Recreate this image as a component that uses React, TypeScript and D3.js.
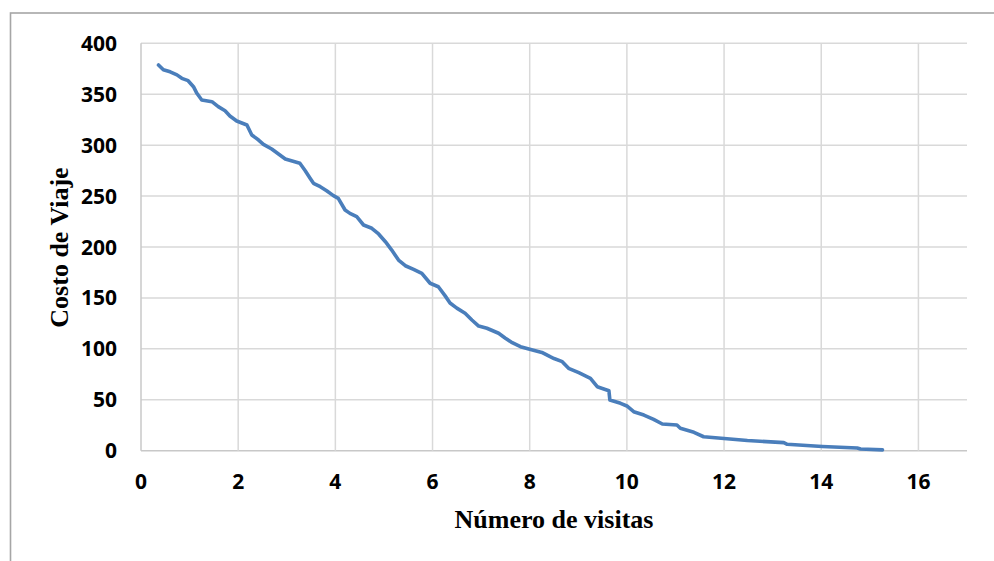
import React from "react";
import * as d3 from "d3";

const visitas: number[] = [
  0.36, 0.46, 0.6, 0.74, 0.84, 0.97, 1.08, 1.15, 1.25, 1.46, 1.59, 1.73, 1.83, 1.97,
  2.18, 2.28, 2.42, 2.52, 2.69, 2.83, 2.97, 3.27, 3.38, 3.48, 3.55, 3.69, 3.82, 3.96,
  4.06, 4.2, 4.3, 4.44, 4.58, 4.75, 4.89, 5.03, 5.16, 5.3, 5.44, 5.61, 5.78, 5.95,
  6.12, 6.26, 6.36, 6.5, 6.67, 6.81, 6.95, 7.12, 7.36, 7.5, 7.64, 7.81, 8.0, 8.25,
  8.42, 8.5, 8.67, 8.8, 9.01, 9.25, 9.39, 9.63, 9.65, 9.87, 10.0, 10.14, 10.35, 10.55,
  10.73, 11.03, 11.1, 11.38, 11.58, 12.0, 12.48, 13.23, 13.3, 14.02, 14.74, 14.81, 15.26,
];
const costo: number[] = [
  378.7, 374, 372, 369, 365.6, 363.3, 357.4, 350.9, 344.3, 342.7, 337.8, 333.8, 328.6, 323.7,
  319.8, 310, 305, 300.8, 296.2, 291.3, 286.4, 282.2, 274.9, 267.5, 262.5, 259.2, 255.3, 250.4,
  247.8, 236.3, 233, 229.8, 221.6, 218.4, 212.8, 205.2, 197, 187.2, 181.6, 178.1, 174.2, 164.4,
  161, 152, 145, 140, 135, 128.3, 122.4, 120.2, 115.3, 110.4, 106, 102.1, 99.6, 96.5,
  92.3, 90.5, 87.4, 80.9, 76.6, 71.1, 62.8, 58.9, 49.8, 46.5, 43.9, 38.3, 35, 30.8,
  26.2, 25.2, 22, 18.1, 13.7, 12, 10, 7.9, 6.3, 4.2, 2.6, 1.6, 0.8,
];
const xTicks: number[] = [0, 2, 4, 6, 8, 10, 12, 14, 16];
const yTicks: number[] = [0, 50, 100, 150, 200, 250, 300, 350, 400];
const xTitle = "Número de visitas";
const yTitle = "Costo de Viaje";

export default function App() {
  const W = 994;
  const H = 561;
  const left = 141;
  const right = 967;
  const top = 43.3;
  const bottom = 450.7;

  const x = d3.scaleLinear().domain([0, 17]).range([left, right]);
  const y = d3.scaleLinear().domain([0, 400]).range([bottom, top]);

  const pts: [number, number][] = visitas.map((v, i) => [v, costo[i]]);
  const line = d3
    .line<[number, number]>()
    .x((d) => x(d[0]))
    .y((d) => y(d[1]))
    .curve(d3.curveLinear);

  const tickFont = "'Open Sans', 'Liberation Sans', sans-serif";
  const titleFont = "'Liberation Serif', 'Times New Roman', serif";

  return (
    <svg
      width={W}
      height={H}
      style={{ position: "absolute", left: 0, top: 0, display: "block", background: "#fff" }}
    >
      <rect x={0} y={0} width={W} height={H} fill="#fff" />
      <rect x={10.5} y={13} width={1200} height={800} fill="none" stroke="#a6a6a6" strokeWidth={1.6} />
      {yTicks.map((t) => (
        <line key={"gy" + t} x1={left} x2={right} y1={y(t)} y2={y(t)} stroke={t === 0 ? "#c8c8c8" : "#d9d9d9"} strokeWidth={1.5} />
      ))}
      {xTicks.map((t) => (
        <line key={"gx" + t} x1={x(t)} x2={x(t)} y1={top} y2={bottom} stroke={t === 0 ? "#c8c8c8" : "#d9d9d9"} strokeWidth={1.5} />
      ))}
      <path
        d={line(pts) || ""}
        fill="none"
        stroke="#4a7ebb"
        strokeWidth={3.6}
        strokeLinejoin="round"
        strokeLinecap="round"
      />
      {yTicks.map((t) => (
        <text key={"ly" + t} x={117} y={y(t)} dy="0.36em" textAnchor="end" fontFamily={tickFont} fontWeight={700} fontSize={21} fill="#000">
          {t}
        </text>
      ))}
      {xTicks.map((t) => (
        <text key={"lx" + t} x={x(t)} y={489} textAnchor="middle" fontFamily={tickFont} fontWeight={700} fontSize={21} fill="#000">
          {t}
        </text>
      ))}
      <text x={(left + right) / 2} y={528} textAnchor="middle" fontFamily={titleFont} fontWeight={700} fontSize={26} fill="#000">
        {xTitle}
      </text>
      <text
        transform={`translate(68, 247.5) rotate(-90)`}
        textAnchor="middle"
        fontFamily={titleFont}
        fontWeight={700}
        fontSize={26}
        fill="#000"
      >
        {yTitle}
      </text>
    </svg>
  );
}
